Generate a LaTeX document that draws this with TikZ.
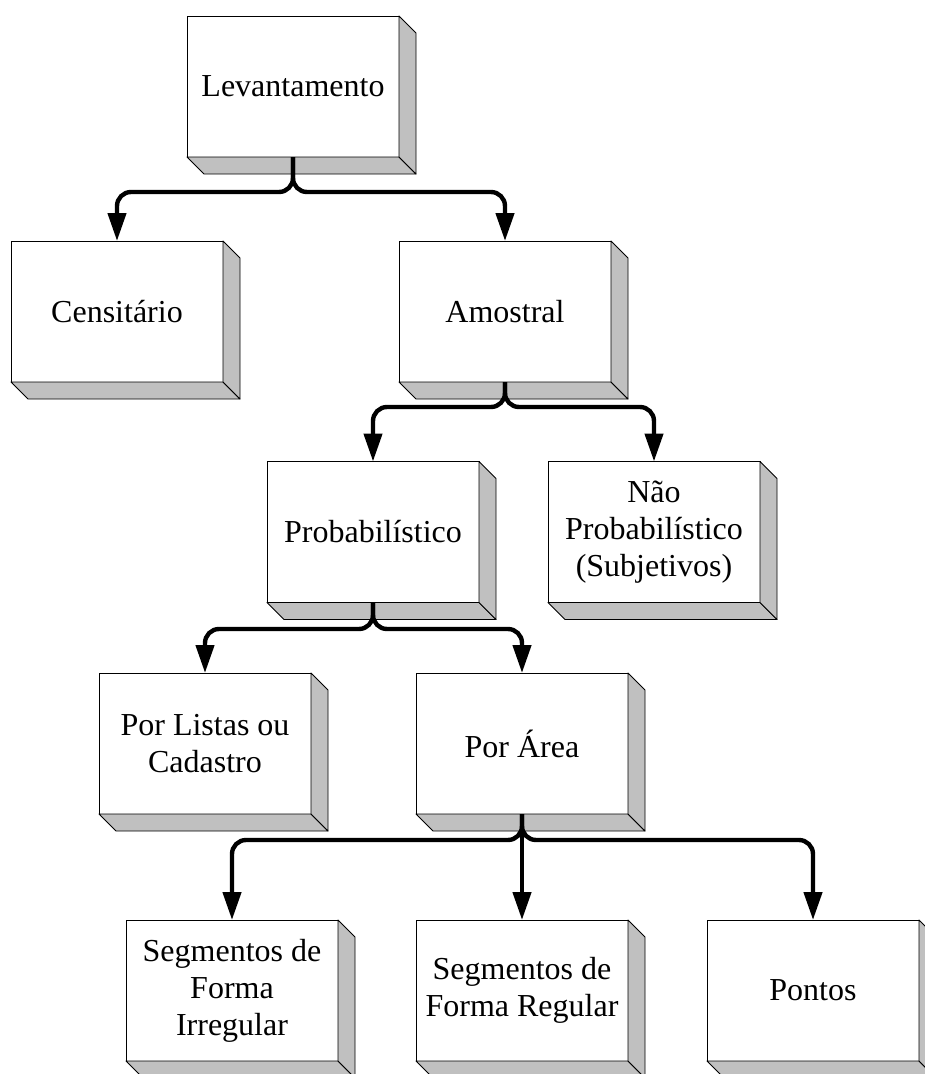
\documentclass[tikz,border=0pt]{standalone}
\usepackage{fontspec}
\setmainfont{Liberation Serif}
\usetikzlibrary{arrows.meta}
\definecolor{boxgray}{RGB}{192,192,192}
\begin{document}
\begin{tikzpicture}[x=1pt,y=-1pt,
  box/.style={draw=black, line width=0.9pt, fill=white, minimum width=212pt,
    minimum height=141pt, inner sep=0pt, outer sep=0pt, align=center,
    font=\fontsize{32}{37}\selectfont},
  face/.style={fill=boxgray, draw=black, line width=0.9pt, line join=round},
  conn/.style={line width=4.4pt, rounded corners=14pt,
    -{Triangle[length=28pt,width=18pt]}}]
\useasboundingbox (0,0) rectangle (925,1074);
\clip (0,0) rectangle (925,1074);
% boxes (centre = left+106, top+70.5)
\node[box] (lev)  at (293,86.5)  {Levantamento};
\node[box] (cen)  at (117,311.5) {Censitário};
\node[box] (amo)  at (505,311.5) {Amostral};
\node[box] (prob) at (373,532)   {Probabilístico};
\node[box] (nao)  at (654,532)   {Não\\Probabilístico\\(Subjetivos)};
\node[box] (lis)  at (205,743.5) {Por Listas ou\\Cadastro};
\node[box] (area) at (522,743.5) {Por Área};
\node[box] (irr)  at (232,990.5) {Segmentos de\\Forma\\Irregular};
\node[box] (reg)  at (522,990.5) {Segmentos de\\Forma Regular};
\node[box] (pon)  at (813,990.5) {Pontos};
% 3D faces
\foreach \n in {lev,cen,amo,prob,nao,lis,area,irr,reg,pon}{
  \draw[face] (\n.south west) -- (\n.south east) -- ([shift={(17,17)}]\n.south east)
    -- ([shift={(17,17)}]\n.south west) -- cycle;
  \draw[face] (\n.north east) -- ([shift={(17,17)}]\n.north east)
    -- ([shift={(17,17)}]\n.south east) -- (\n.south east) -- cycle;
}
% connector levels
\coordinate (h1) at (0,192);
\coordinate (h2) at (0,407);
\coordinate (h3) at (0,629);
\coordinate (h4) at (0,840);
\draw[conn] (lev.south) -- (lev.south |- h1) -- (cen.north |- h1) -- (cen.north);
\draw[conn] (lev.south) -- (lev.south |- h1) -- (amo.north |- h1) -- (amo.north);
\draw[conn] (amo.south) -- (amo.south |- h2) -- (prob.north |- h2) -- (prob.north);
\draw[conn] (amo.south) -- (amo.south |- h2) -- (nao.north |- h2) -- (nao.north);
\draw[conn] (prob.south) -- (prob.south |- h3) -- (lis.north |- h3) -- (lis.north);
\draw[conn] (prob.south) -- (prob.south |- h3) -- (area.north |- h3) -- (area.north);
\draw[conn] (area.south) -- (area.south |- h4) -- (irr.north |- h4) -- (irr.north);
\draw[conn] (area.south) -- (reg.north);
\draw[conn] (area.south) -- (area.south |- h4) -- (pon.north |- h4) -- (pon.north);
\end{tikzpicture}
\end{document}
